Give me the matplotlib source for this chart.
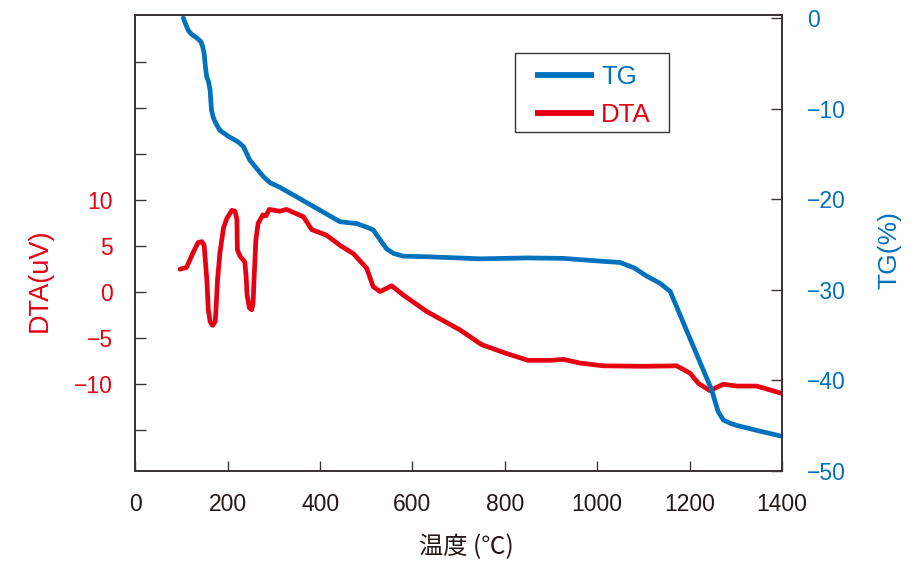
import matplotlib
matplotlib.use("Agg")
import matplotlib.pyplot as plt
from matplotlib.patches import Rectangle
from matplotlib.ticker import FixedLocator, FixedFormatter

plt.rcParams['font.family'] = ['Liberation Sans', 'Noto Sans CJK JP']

# TG curve (temperature in C, mass change in %)
temp_tg = [104, 110, 115, 122, 133, 142, 146, 149, 152, 155, 158, 162, 165, 169,
           173, 183, 201, 223, 234, 248, 277, 292, 313, 392, 443, 479, 501, 515,
           530, 544, 559, 580, 650, 746, 850, 927, 1006, 1049, 1080, 1107, 1136,
           1158, 1200, 1248, 1256, 1262, 1273, 1290, 1302, 1350, 1400]
tg = [0.0, -0.8, -1.4, -1.8, -2.2, -2.6, -3.2, -3.9, -5.5, -6.6, -6.9, -8.0,
      -10.2, -11.0, -11.5, -12.4, -13.05, -13.7, -14.2, -15.7, -17.5, -18.2,
      -18.7, -21.0, -22.5, -22.7, -23.1, -23.4, -24.5, -25.5, -26.0, -26.3,
      -26.4, -26.6, -26.5, -26.55, -26.85, -27.0, -27.6, -28.5, -29.3, -30.2,
      -35.3, -41.1, -42.5, -43.5, -44.4, -44.8, -45.0, -45.6, -46.2]

# DTA curve (temperature in C, signal in uV)
temp_dta = [97, 111, 126, 136, 144, 149, 155, 158, 162, 167, 173, 175, 178, 183,
            191, 198, 209, 216, 220, 221, 227, 237, 240, 242, 247, 252, 255, 257,
            261, 266, 276, 283, 290, 313, 327, 364, 382, 414, 443, 472, 501, 515,
            530, 555, 580, 631, 703, 750, 800, 850, 900, 927, 963, 1013, 1100,
            1172, 1201, 1219, 1244, 1273, 1302, 1345, 1400]
dta = [2.5, 2.7, 4.4, 5.4, 5.5, 5.1, 1.3, -1.9, -3.2, -3.6, -3.2, -1.6, 1.3, 4.2,
       7.0, 8.0, 8.9, 8.8, 7.9, 4.6, 3.9, 3.3, 1.7, -0.3, -1.7, -1.9, -1.2, 1.3,
       5.7, 7.5, 8.4, 8.3, 9.0, 8.8, 9.0, 8.2, 6.8, 6.2, 5.1, 4.2, 2.6, 0.6,
       0.07, 0.7, -0.3, -2.1, -4.1, -5.7, -6.6, -7.4, -7.4, -7.3, -7.7, -8.0,
       -8.05, -8.0, -8.8, -9.9, -10.7, -10.0, -10.2, -10.2, -11.0]

x_ticks = [0, 200, 400, 600, 800, 1000, 1200, 1400]
dta_ticks = [-15, -10, -5, 0, 5, 10, 15, 20, 25]
dta_labels = ['', '\u221210', '\u22125', '0', '5', '10', '', '', '']
tg_ticks = [-50, -40, -30, -20, -10, 0]
tg_labels = ['\u221250', '\u221240', '\u221230', '\u221220', '\u221210', '0']

blue = '#0071bc'
red = '#e60012'
spine_c = '#3a3434'
text_c = '#231815'

fig, ax = plt.subplots(figsize=(9.16, 5.64), dpi=100)
fig.subplots_adjust(left=0.1477, right=0.8537, bottom=0.1654, top=0.9729)
ax2 = ax.twinx()

l_dta, = ax.plot(temp_dta, dta, color=red, lw=3.4, solid_capstyle='round',
                 solid_joinstyle='round', label='DTA')
l_tg, = ax2.plot(temp_tg, tg, color=blue, lw=3.4, solid_capstyle='round',
                 solid_joinstyle='round', label='TG')

ax.set_xlim(0, 1400)
ax.set_ylim(-19.4, 30.1)
ax2.set_ylim(-50, 0.3)

ax.set_xticks(x_ticks)
ax.yaxis.set_major_locator(FixedLocator(dta_ticks))
ax.yaxis.set_major_formatter(FixedFormatter(dta_labels))
ax2.set_yticks(tg_ticks)
ax2.set_yticklabels(tg_labels)

for a in (ax, ax2):
    for s in a.spines.values():
        s.set_color(spine_c)
        s.set_linewidth(1.3)

ax.tick_params(axis='x', direction='in', length=7.5, width=1, color=spine_c,
               labelsize=16.5, labelcolor=text_c, pad=16)
ax.tick_params(axis='y', direction='in', length=8, width=1, color=spine_c,
               labelsize=16.5, labelcolor=red, pad=16)
ax2.tick_params(axis='y', direction='in', length=8, width=1, color=spine_c,
                labelsize=16.5, labelcolor=blue, pad=18)

ax.set_xlabel('温度 (℃)', fontsize=17.5, color=text_c,
              family=['Noto Sans CJK JP', 'Liberation Sans'])
ax.xaxis.set_label_coords(0.5125, -0.14)
ax.set_ylabel('DTA(uV)', fontsize=19.5, color=red)
ax.yaxis.set_label_coords(-0.128, 0.419)
ax2.set_ylabel('TG(%)', fontsize=19, color=blue)
ax2.yaxis.set_label_coords(1.147, 0.485)

# legend: frame drawn separately so the padding can match
ax2.add_patch(Rectangle((0.587, 0.743), 0.238, 0.174, transform=ax2.transAxes,
                        facecolor='white', edgecolor=spine_c, lw=1, zorder=5))
leg = ax2.legend([l_tg, l_dta], ['TG', 'DTA'], loc='upper left',
                 bbox_to_anchor=(0.618, 0.891), borderaxespad=0, borderpad=0,
                 fontsize=18.5, handlelength=2.3, handletextpad=0.27,
                 labelspacing=0.56, frameon=False)
leg.set_zorder(6)
for txt, c in zip(leg.get_texts(), [blue, red]):
    txt.set_color(c)
for h in leg.get_lines():
    h.set_linewidth(4.2)
    h.set_solid_capstyle('butt')

fig.savefig('out.png', dpi=100)
